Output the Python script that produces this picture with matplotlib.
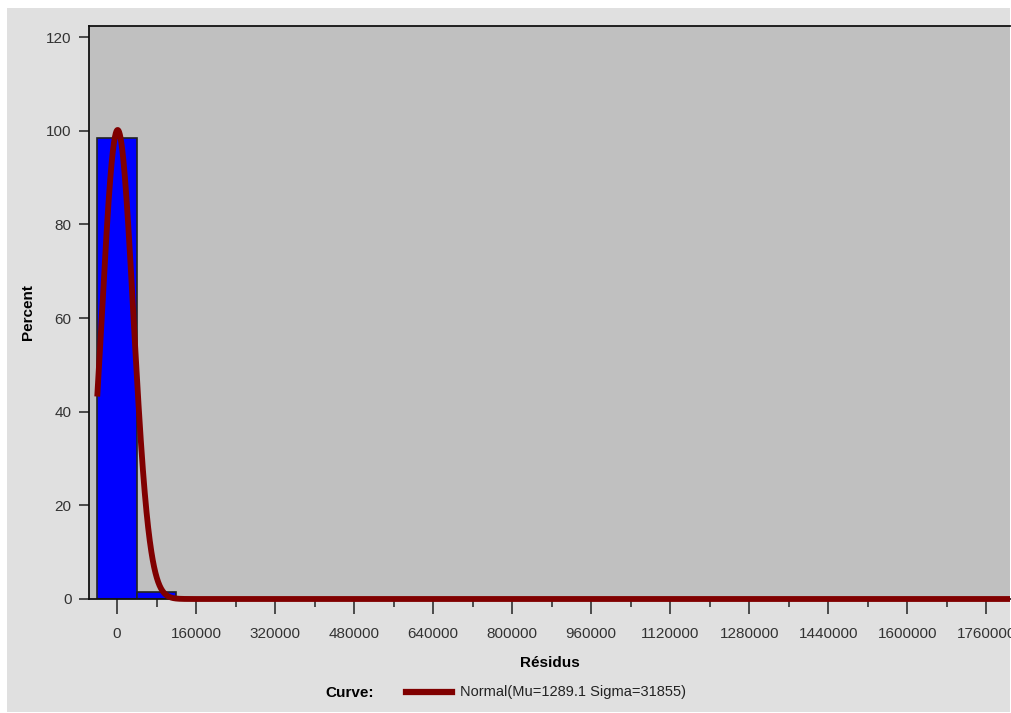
import numpy as np
import matplotlib.pyplot as plt
from matplotlib.lines import Line2D
from matplotlib.patches import Rectangle

###################################
#     Data                      ###
###################################

# histogram of residuals (percent per bin)
bin_left = [-40000, 40000]
bin_width = 80000
bin_pct = [98.4, 1.5]

# fitted normal curve parameters (from the legend)
mu = 1289.1
sigma = 31855
curve_start = -40000
curve_end = 1808000

x_ticks = [0, 160000, 320000, 480000, 640000, 800000, 960000, 1120000,
           1280000, 1440000, 1600000, 1760000]
y_ticks = [0, 20, 40, 60, 80, 100, 120]

###################################
#     Plot                      ###
###################################

plt.rcParams['font.family'] = ['Liberation Sans', 'DejaVu Sans']

fig = plt.figure(figsize=(10.11, 7.13), dpi=100)
fig.patch.set_facecolor('white')
# gray panel with thin white margin (top/left)
fig.patches.append(Rectangle((7 / 1011, 1 / 713), 1003 / 1011, 704 / 713,
                             transform=fig.transFigure, facecolor='#e0e0e0',
                             edgecolor='none', zorder=-10))

ax = fig.add_axes([89 / 1011, 114 / 713, 921 / 1011, 573 / 713])
ax.set_facecolor('#c0c0c0')

ax.bar(bin_left, bin_pct, width=bin_width, align='edge', color='#0000ff',
       edgecolor='#222222', linewidth=1.2, zorder=2)

# normal density scaled to percent per bin
xc = np.linspace(curve_start, curve_end, 4000)
yc = 100 * bin_width * np.exp(-0.5 * ((xc - mu) / sigma) ** 2) / (sigma * np.sqrt(2 * np.pi))
ax.plot(xc, yc, color='#800000', linewidth=4.2, zorder=3, clip_on=False,
        solid_capstyle='butt')

ax.set_xlim(-56700, 1808000)
ax.set_ylim(0, 122.4)

ax.set_xticks(x_ticks)
ax.set_xticklabels([str(t) for t in x_ticks])
ax.set_xticks([t + 80000 for t in [-160000] + x_ticks if -56700 < t + 80000 < 1808000], minor=True)
ax.set_yticks(y_ticks)

ax.tick_params(axis='x', which='major', length=11, width=1.1, pad=9,
               labelsize=11, labelcolor='#333333', color='#222222')
ax.tick_params(axis='x', which='minor', length=5.8, width=1.1, color='#222222')
ax.tick_params(axis='y', which='major', length=7.5, width=1.1, pad=5,
               labelsize=11, labelcolor='#333333', color='#222222')

for s in ['left', 'top', 'bottom']:
    ax.spines[s].set_color('#111111')
    ax.spines[s].set_linewidth(1.3)
ax.spines['right'].set_visible(False)

ax.set_xlabel('Résidus', fontsize=11, fontweight='bold', labelpad=11)
ax.set_ylabel('Percent', fontsize=11, fontweight='bold', labelpad=8)

# legend
fig.text(350 / 1011, 1 - 693 / 713, 'Curve:', fontsize=11, fontweight='bold',
         ha='center', va='center')
fig.lines.append(Line2D([406 / 1011, 452 / 1011], [1 - 692 / 713, 1 - 692 / 713],
                        transform=fig.transFigure, color='#800000', linewidth=4.5))
fig.text(460 / 1011, 1 - 692 / 713, 'Normal(Mu=1289.1 Sigma=31855)', fontsize=10.5,
         color='#222222', ha='left', va='center')

plt.savefig('out.png', dpi=100)
